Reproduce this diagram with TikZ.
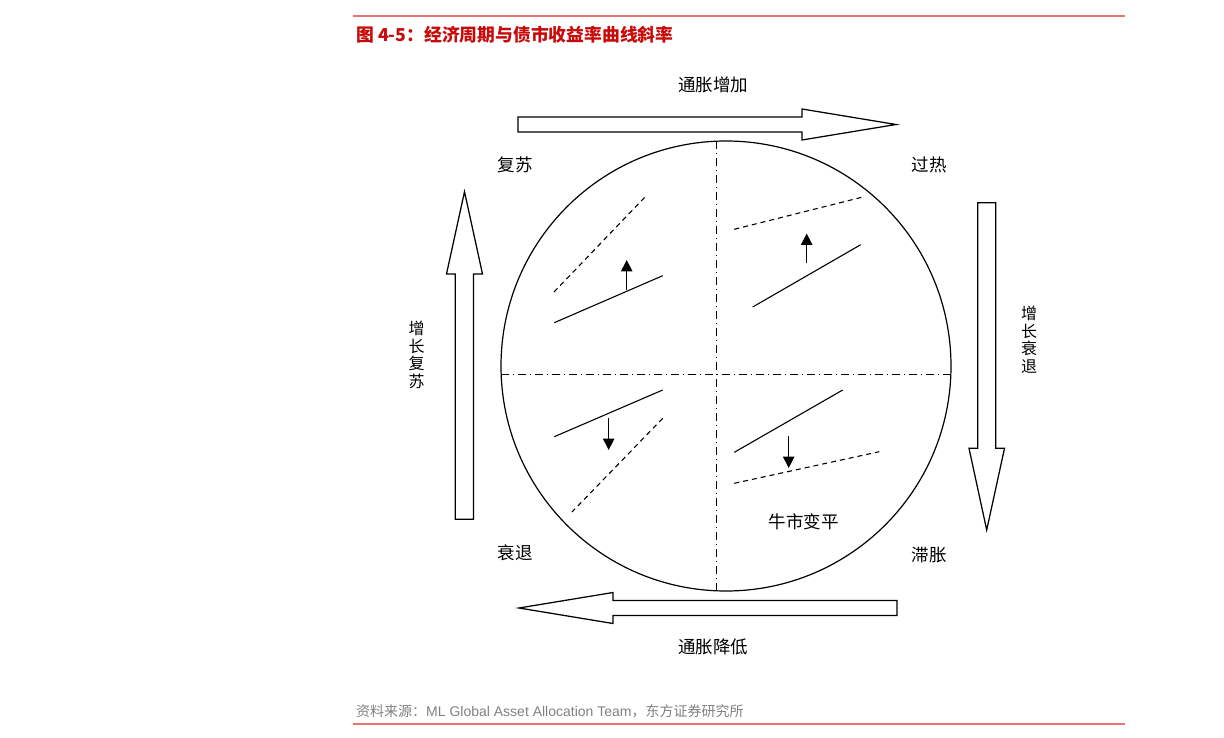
\documentclass[tikz,border=0pt]{standalone}
\usepackage{fontspec}
\setmainfont{Noto Sans CJK SC}
\newfontfamily\latfont{Liberation Sans}
\usetikzlibrary{arrows.meta}
\definecolor{titlered}{RGB}{200,10,10}
\definecolor{rulered}{RGB}{230,115,115}
\definecolor{srcgray}{RGB}{128,128,128}
\begin{document}
\begin{tikzpicture}[x=1pt,y=-1pt,
    blockarrow/.style={draw, line width=1.25pt, fill=white},
    axisline/.style={line width=0.9pt, dash pattern=on 8pt off 4pt on 1pt off 4pt},
    curve/.style={line width=1.1pt},
    oldcurve/.style={line width=1.1pt, dash pattern=on 5pt off 4pt},
    curveshift/.style={line width=1.1pt, -{Triangle[width=11.5pt,length=11.5pt]}},
    lbl/.style={font=\fontsize{17.5}{19}\selectfont, inner sep=0pt},
    vlbl/.style={font=\fontsize{16}{17.5}\selectfont, align=center, inner sep=0pt}]
    \useasboundingbox (0,0) rectangle (1224,738);

    % frame of the page
    \draw[rulered, line width=1.1pt] (353,16) -- (1125,16);
    \draw[rulered, line width=1.1pt] (353,724) -- (1125,724);
    \node[anchor=west, inner sep=0pt, text=titlered, font=\fontsize{17.8}{19}\selectfont\bfseries] (title) at (356,35) {图 4-5：经济周期与债市收益率曲线斜率};
    \node[anchor=west, inner sep=0pt, text=srcgray, font=\fontsize{14}{15}\selectfont] (source) at (356,711) {资料来源：{\latfont ML Global Asset Allocation Team}，东方证券研究所};

    % cycle circle and axes
    \draw[line width=1.2pt] (726,366) circle (225);
    \draw[axisline] (501,374) -- (951,374);
    \draw[axisline] (716.7,141) -- (716.7,591);

    % four block arrows
    \draw[blockarrow] (518,117) -- (802,117) -- (802,109) -- (896,124.5) -- (802,140) -- (802,132) -- (518,132) -- cycle;
    \draw[blockarrow] (897,600.5) -- (613,600.5) -- (613,592.5) -- (519,608) -- (613,623.5) -- (613,615.5) -- (897,615.5) -- cycle;
    \draw[blockarrow] (455.3,519.3) -- (455.3,274) -- (446.5,274) -- (464.5,191.7) -- (482.5,274) -- (473.5,274) -- (473.5,519.3) -- cycle;
    \draw[blockarrow] (977.7,202.7) -- (977.7,448.3) -- (969,448.3) -- (986.7,530) -- (1004.5,448.3) -- (995.7,448.3) -- (995.7,202.7) -- cycle;

    % yield curves, top left
    \draw[oldcurve] (554,292) -- (645,197);
    \draw[curve] (554.3,322.7) -- (662.7,275.7);
    \draw[curveshift] (626.7,290) -- (626.7,260);
    % top right
    \draw[oldcurve] (734.3,229.3) -- (861.7,197.3);
    \draw[curve] (752.7,307) -- (860.7,244.7);
    \draw[curveshift] (806.7,263) -- (806.7,233.5);
    % bottom left
    \draw[curve] (554.3,436.7) -- (662.7,390);
    \draw[curveshift] (608.7,417.7) -- (608.7,450);
    \draw[oldcurve] (662.7,418.3) -- (572,512);
    % bottom right
    \draw[curve] (734.3,452.3) -- (842.7,390);
    \draw[curveshift] (788.7,436) -- (788.7,468);
    \draw[oldcurve] (734.3,483.3) -- (879.3,451.7);

    % labels
    \node[lbl] (up) at (713,85) {通胀增加};
    \node[lbl] (down) at (713,647) {通胀降低};
    \node[lbl] (recovery) at (515,165) {复苏};
    \node[lbl] (overheat) at (929,165) {过热};
    \node[lbl] (recession) at (515,553) {衰退};
    \node[lbl] (stagflation) at (929,555) {滞胀};
    \node[lbl] (bullflat) at (803.5,522) {牛市变平};
    \node[vlbl] (growthup) at (416.5,355) {增\\长\\复\\苏};
    \node[vlbl] (growthdown) at (1029,340) {增\\长\\衰\\退};

\end{tikzpicture}
\end{document}
